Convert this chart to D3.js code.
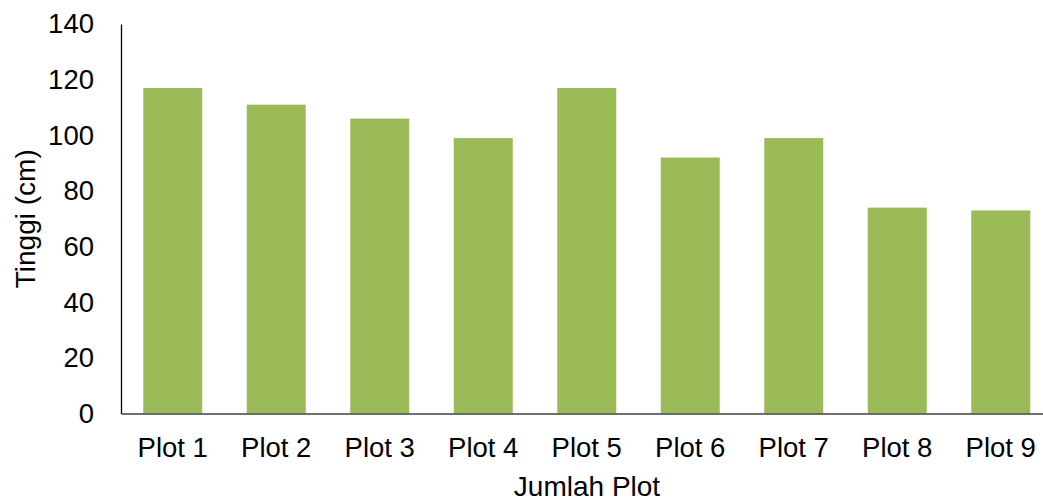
<!DOCTYPE html>
<meta charset="utf-8">
<style>
body { margin: 0; background: #fff; }
text { font-family: "Liberation Sans", Arial, sans-serif; fill: #000; }
.tick text { font-size: 27.5px; }
.title { font-size: 28px; }
</style>
<body>
<script src="https://cdn.jsdelivr.net/npm/d3@7"></script>
<script>

var plots = ["Plot 1", "Plot 2", "Plot 3", "Plot 4", "Plot 5", "Plot 6", "Plot 7", "Plot 8", "Plot 9"];
var tinggi = [117, 111, 106, 99, 117, 92, 99, 74, 73];
var yTicks = [0, 20, 40, 60, 80, 100, 120, 140];

var width = 1043,
    height = 504;

var svg = d3.select("body").append("svg")
    .attr("width", width)
    .attr("height", height);

var x = d3.scaleBand()
    .domain(plots)
    .range([121, 1052.5])
    .paddingInner(0.43)
    .paddingOuter(0.215);

var y = d3.scaleLinear()
    .domain([0, 140])
    .range([413.5, 24]);

// bars
svg.selectAll("rect.bar")
    .data(tinggi)
  .enter().append("rect")
    .attr("class", "bar")
    .attr("x", function(d, i) { return x(plots[i]); })
    .attr("y", function(d) { return y(d); })
    .attr("width", x.bandwidth())
    .attr("height", function(d) { return y(0) - y(d); })
    .attr("fill", "#9bbb59");

// y axis
var yAxis = svg.append("g")
    .attr("transform", "translate(121,0)")
    .call(d3.axisLeft(y).tickValues(yTicks).tickSize(0).tickPadding(27));
yAxis.select(".domain").attr("stroke", "#000").attr("stroke-width", 1.3);

// x axis
var xAxis = svg.append("g")
    .attr("transform", "translate(0," + y(0) + ")")
    .call(d3.axisBottom(x).tickSize(0).tickPadding(24));
xAxis.select(".domain").attr("stroke", "#404040").attr("stroke-width", 1.6);

svg.selectAll(".tick text").attr("fill", "#000");

// axis titles
svg.append("text")
    .attr("class", "title")
    .attr("x", (121 + width) / 2 + 5)
    .attr("y", 496)
    .attr("text-anchor", "middle")
    .text("Jumlah Plot");

svg.append("text")
    .attr("class", "title")
    .attr("transform", "translate(35," + y(70) + ") rotate(-90)")
    .attr("text-anchor", "middle")
    .text("Tinggi (cm)");
</script>
</body>
